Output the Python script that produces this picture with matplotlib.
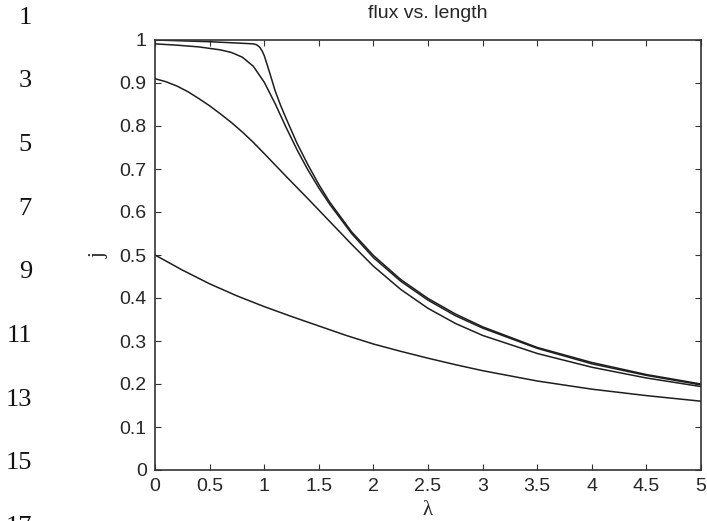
import matplotlib
matplotlib.use("Agg")
import matplotlib.pyplot as plt

# Data
lam_a = [0, 0.25, 0.5, 0.75, 0.9, 0.93, 0.96, 0.98, 1.0, 1.05, 1.1, 1.15, 1.2,
         1.3, 1.4, 1.5, 1.6, 1.8, 2.0, 2.25, 2.5, 2.75, 3.0, 3.5, 4.0, 4.5, 5.0]
j_a = [1.0, 0.998, 0.996, 0.993, 0.991, 0.989, 0.983, 0.975, 0.964, 0.924,
       0.882, 0.848, 0.818, 0.760, 0.710, 0.664, 0.623, 0.554, 0.499, 0.443,
       0.399, 0.363, 0.333, 0.285, 0.250, 0.222, 0.200]
lam_b = [0, 0.2, 0.4, 0.6, 0.7, 0.8, 0.9, 1.0, 1.1, 1.2, 1.3, 1.4, 1.5, 1.6,
         1.8, 2.0, 2.25, 2.5, 2.75, 3.0, 3.5, 4.0, 4.5, 5.0]
j_b = [0.991, 0.988, 0.984, 0.977, 0.971, 0.960, 0.939, 0.902, 0.852, 0.797,
       0.745, 0.698, 0.656, 0.618, 0.550, 0.494, 0.439, 0.395, 0.359, 0.330,
       0.283, 0.247, 0.220, 0.198]
lam_c = [0, 0.1, 0.2, 0.3, 0.4, 0.5, 0.6, 0.7, 0.8, 0.9, 1.0, 1.2, 1.4, 1.6,
         1.8, 2.0, 2.25, 2.5, 2.75, 3.0, 3.5, 4.0, 4.5, 5.0]
j_c = [0.910, 0.903, 0.893, 0.880, 0.864, 0.847, 0.828, 0.808, 0.786, 0.762,
       0.736, 0.683, 0.631, 0.578, 0.525, 0.474, 0.420, 0.376, 0.341, 0.313,
       0.271, 0.239, 0.214, 0.194]
lam_d = [0, 0.25, 0.5, 0.75, 1.0, 1.25, 1.5, 1.75, 2.0, 2.25, 2.5, 2.75, 3.0,
         3.5, 4.0, 4.5, 5.0]
j_d = [0.500, 0.465, 0.433, 0.405, 0.380, 0.357, 0.335, 0.313, 0.293, 0.276,
       0.260, 0.245, 0.231, 0.207, 0.188, 0.173, 0.160]

x_ticks = [0, 0.5, 1, 1.5, 2, 2.5, 3, 3.5, 4, 4.5, 5]
x_tick_labels = ["0", "0.5", "1", "1.5", "2", "2.5", "3", "3.5", "4", "4.5", "5"]
y_ticks = [0, 0.1, 0.2, 0.3, 0.4, 0.5, 0.6, 0.7, 0.8, 0.9, 1]
y_tick_labels = ["0", "0.1", "0.2", "0.3", "0.4", "0.5", "0.6", "0.7", "0.8", "0.9", "1"]
line_numbers = ["1", "3", "5", "7", "9", "11", "13", "15", "17"]

W, H = 707, 521
fig = plt.figure(figsize=(W / 100, H / 100), dpi=100)
ax = fig.add_axes([155 / W, (H - 470) / H, 546 / W, 430 / H])

lc = "#1e1e1e"
ax.plot(lam_a, j_a, color=lc, lw=1.1)
ax.plot(lam_b, j_b, color=lc, lw=1.1)
ax.plot(lam_c, j_c, color=lc, lw=1.1)
ax.plot(lam_d, j_d, color=lc, lw=1.1)

ax.set_xlim(0, 5)
ax.set_ylim(0, 1)
ax.set_xticks(x_ticks)
ax.set_xticklabels(x_tick_labels)
ax.set_yticks(y_ticks)
ax.set_yticklabels(y_tick_labels)

tc = "#262626"
for lab in ax.get_xticklabels() + ax.get_yticklabels():
    lab.set_family("Liberation Sans")
    lab.set_fontsize(14)
    lab.set_color(tc)
ax.tick_params(direction="in", length=4, width=0.8, top=True, right=True,
               colors="#333333", labelcolor=tc)
ax.tick_params(axis="x", pad=6)
ax.tick_params(axis="y", pad=6)
for s in ax.spines.values():
    s.set_linewidth(1.2)
    s.set_color("#333333")

ax.set_title("flux vs. length", family="Liberation Sans", fontsize=14,
             color=tc, pad=16)
ax.set_xlabel("λ", family="Liberation Serif", fontsize=15, color=tc, labelpad=4)
ax.set_ylabel("j", family="Liberation Serif", fontsize=15, color=tc, labelpad=8)

# line numbers at the left margin
for i, t in enumerate(line_numbers):
    yc = 17.5 + i * 63.7
    fig.text(32 / W, 1 - yc / H, t, family="Liberation Serif", fontsize=19,
             ha="right", va="center", color="#111111")

fig.savefig("out.png", dpi=100)
